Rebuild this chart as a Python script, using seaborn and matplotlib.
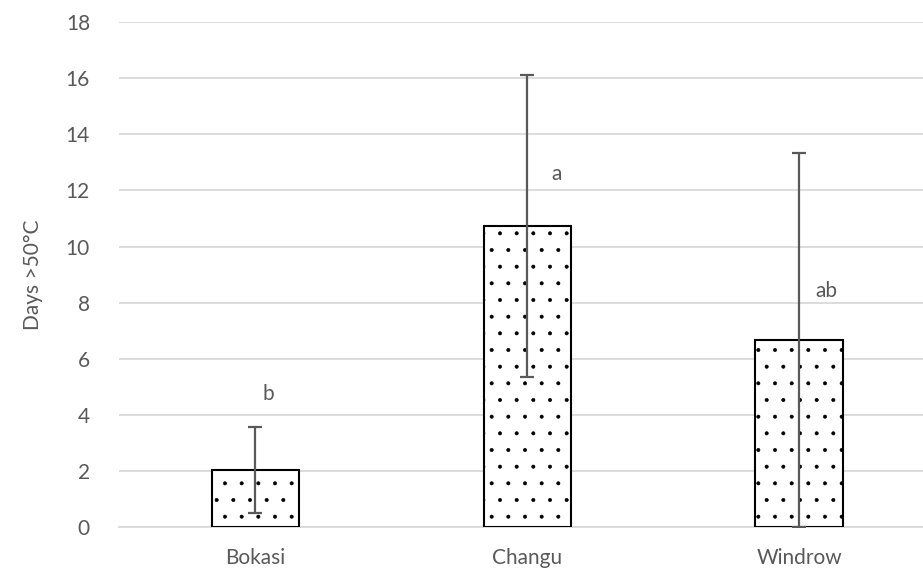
import matplotlib
matplotlib.use("Agg")
import matplotlib.pyplot as plt
import seaborn as sns
import pandas as pd

# Compost treatments and days above 50 °C
categories = ["Bokasi", "Changu", "Windrow"]
days_mean = [2.03, 10.73, 6.66]
days_err = [1.52, 5.40, 6.67]
letters = ["b", "a", "ab"]
letter_x = [0.05, 1.11, 2.10]
letter_y = [4.75, 12.6, 8.4]
y_ticks = [0, 2, 4, 6, 8, 10, 12, 14, 16, 18]

sns.set_theme(style="white")
plt.rcParams["font.family"] = ["Lato", "DejaVu Sans"]
plt.rcParams["hatch.linewidth"] = 0.4
plt.rcParams["hatch.color"] = "black"

text_color = "#595959"
grid_color = "#d9d9d9"

df = pd.DataFrame({"treatment": categories, "days": days_mean})

fig = plt.figure(figsize=(9.23, 5.75), dpi=100)
ax = fig.add_axes([0.129, 0.0835, 0.884, 0.878])

sns.barplot(data=df, x="treatment", y="days", color="white", width=0.32,
            edgecolor="black", linewidth=1.5, hatch=".", ax=ax, zorder=2)

ax.errorbar(x=range(len(categories)), y=days_mean, yerr=days_err, fmt="none",
            ecolor=text_color, elinewidth=1.6, capsize=4.7, capthick=1.6,
            zorder=3, clip_on=True)

for xi, yi, lab in zip(letter_x, letter_y, letters):
    ax.text(xi, yi, lab, ha="center", va="center", fontsize=15, color=text_color)

ax.set_xlim(-0.5, 2.5)
ax.set_ylim(0, 18)
ax.set_yticks(y_ticks)
ax.yaxis.grid(True, color=grid_color, linewidth=1.3, zorder=0)
ax.set_axisbelow(True)
for side in ["left", "right", "top"]:
    ax.spines[side].set_visible(False)
ax.spines["bottom"].set_color(grid_color)
ax.spines["bottom"].set_linewidth(1.3)
ax.spines["bottom"].set_zorder(1)

ax.tick_params(axis="both", length=0, labelsize=15, labelcolor=text_color)
ax.tick_params(axis="x", pad=15)
ax.tick_params(axis="y", pad=21)
ax.set_xlabel("")
ax.set_ylabel("Days >50°C", fontsize=15, color=text_color, labelpad=16)

fig.savefig("out.png", dpi=100)
